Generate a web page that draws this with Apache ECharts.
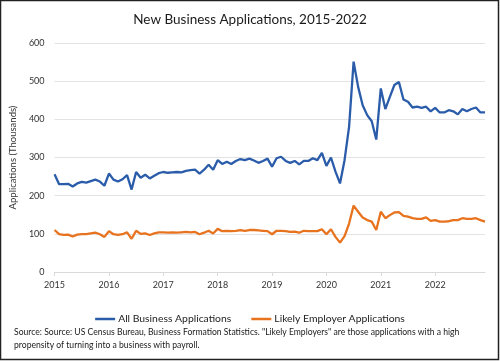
<!DOCTYPE html>
<html><head><meta charset="utf-8">
<script src="https://cdn.jsdelivr.net/npm/echarts@6/dist/echarts.min.js"></script>
<style>html,body{margin:0;padding:0;background:#fff}#c{width:500px;height:361px}</style>
</head><body><div id="c"></div>
<script>
const years = ["2015","2016","2017","2018","2019","2020","2021","2022"];
const months = [];
years.forEach(y => { for (let m = 1; m <= 12; m++) months.push(y + "-" + String(m).padStart(2, "0")); });

const allApps = [
 256,230,230,231,224,232,236,234,238,242,237,226,
 258,242,237,243,254,216,262,247,255,245,252,259,
 262,260,261,262,261,265,267,268,258,268,281,268,
 293,283,289,283,291,296,293,297,292,286,291,297,
 276,298,302,291,286,291,282,291,291,298,293,312,
 278,300,263,232,293,380,551,485,437,411,395,347,
 481,427,459,490,498,452,446,431,433,430,433,421,
 430,418,418,424,421,413,427,421,427,431,418,418
];
const likelyEmployer = [
 110,99,97,98,93,98,99,99,101,103,99,92,
 107,99,97,99,104,87,108,100,101,97,101,104,
 104,103,104,103,104,105,104,105,99,103,108,101,
 113,107,108,107,108,110,108,110,110,109,108,107,
 99,108,108,107,105,106,103,108,107,107,107,112,
 99,112,92,77,94,127,174,158,143,136,132,110,
 158,141,149,156,157,147,145,141,139,139,143,134,
 136,132,132,133,136,136,141,139,139,141,136,132
];
const seriesNames = ["All Business Applications", "Likely Employer Applications"];
const titleText = "New Business Applications, 2015-2022";
const yAxisName = "Applications (Thousands)";
const sourceLines = [
 "Source: Source: US Census Bureau, Business Formation Statistics. \"Likely Employers\" are those applications with a high",
 "propensity of turning into a business with payroll."
];

const FONT = "Lato";
const chart = echarts.init(document.getElementById("c"), null, {renderer: "canvas"});
const yearTick = (idx) => idx % 12 === 0;
chart.setOption({
  animation: false,
  backgroundColor: "#fff",
  textStyle: {fontFamily: FONT},
  title: {text: titleText, left: "center", top: 8,
    textStyle: {fontFamily: FONT, fontSize: 13.5, fontWeight: "normal", color: "#1a1a1a"}},
  grid: {left: 50, right: 15, top: 43, bottom: 89},
  legend: {data: seriesNames, top: 309, left: "center", icon: "rect", itemWidth: 20, itemHeight: 2.5, itemGap: 20, itemStyle: {borderWidth: 0},
    textStyle: {fontFamily: FONT, fontSize: 10.4, color: "#222", padding: [0, 0, 0, -2]}},
  xAxis: {type: "category", data: months, boundaryGap: false,
    axisLine: {lineStyle: {color: "#d9d9d9"}},
    axisTick: {show: true, interval: yearTick, lineStyle: {color: "#d9d9d9"}, length: 4},
    axisLabel: {interval: yearTick, formatter: v => v.slice(0, 4), color: "#333", fontSize: 9, margin: 9, fontFamily: FONT},
    splitLine: {show: false}},
  yAxis: {type: "value", min: 0, max: 600, interval: 100,
    name: yAxisName, nameLocation: "middle", nameGap: 30,
    nameTextStyle: {fontFamily: FONT, fontSize: 9.5, color: "#333"},
    axisLine: {show: false}, axisTick: {show: false},
    axisLabel: {color: "#333", fontSize: 9, margin: 10, fontFamily: FONT},
    splitLine: {lineStyle: {color: "#e3e3e3"}}},
  series: [
    {name: seriesNames[0], type: "line", data: allApps, showSymbol: false, symbol: "none",
      lineStyle: {color: "#2a5caa", width: 2.3}, itemStyle: {color: "#2a5caa"}},
    {name: seriesNames[1], type: "line", data: likelyEmployer, showSymbol: false, symbol: "none",
      lineStyle: {color: "#e8731f", width: 2.3}, itemStyle: {color: "#e8731f"}}
  ],
  graphic: [
    {type: "rect", shape: {x: 0.5, y: 0.5, width: 498, height: 359}, style: {fill: "none", stroke: "#222", lineWidth: 1.5}, silent: true},
    {type: "text", left: 14, top: 328, style: {text: sourceLines[0], fontFamily: FONT, fontSize: 8.6, fill: "#1a1a1a"}},
    {type: "text", left: 14, top: 341, style: {text: sourceLines[1], fontFamily: FONT, fontSize: 8.6, fill: "#1a1a1a"}}
  ]
});
</script></body></html>
